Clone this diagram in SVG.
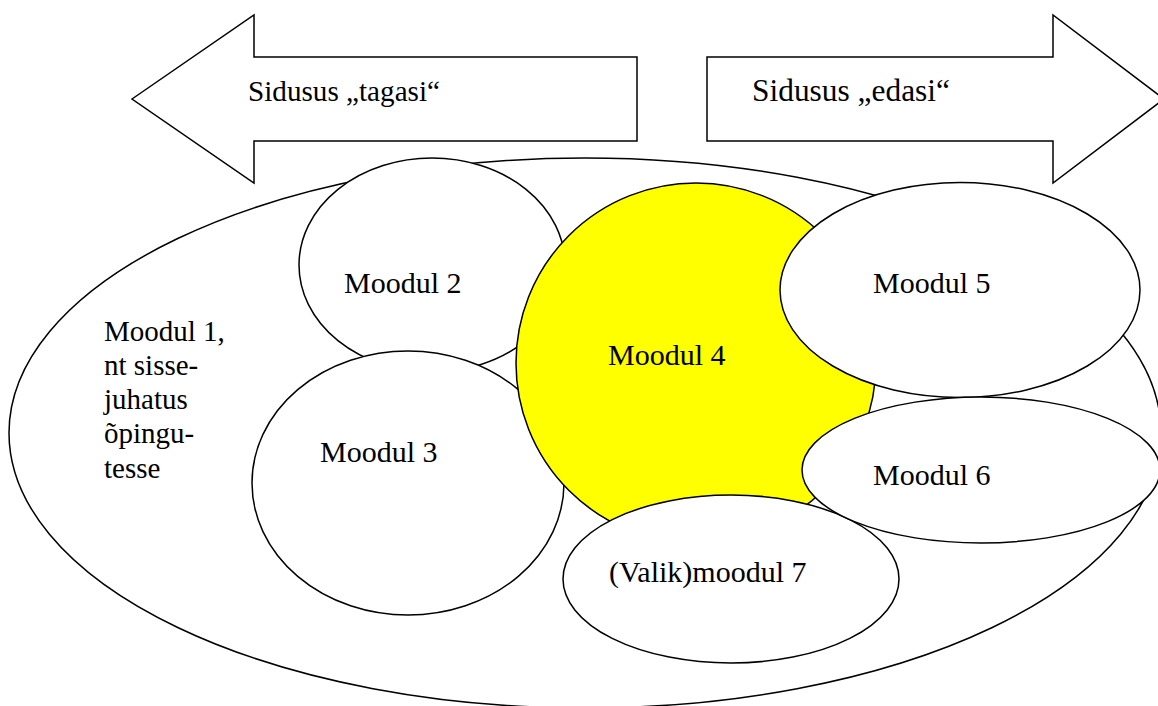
<svg xmlns="http://www.w3.org/2000/svg" width="1158" height="706" viewBox="0 0 1158 706">
<style>
.sh{fill:#fff;stroke:#000;stroke-width:1.5}
.hl{fill:#ffff00;stroke:#000;stroke-width:1.5}
text{font-family:"Liberation Serif","DejaVu Serif",serif;fill:#000}
.m{font-size:30px}
.m1{font-size:29px}
</style>
<rect width="1158" height="706" fill="#fff"/>
<g id="moodul1">
<ellipse class="sh" cx="585" cy="433" rx="576" ry="275"/>
<text class="m1" x="104" y="341">Moodul 1,</text>
<text class="m1" x="104" y="375">nt sisse-</text>
<text class="m1" x="104" y="409">juhatus</text>
<text class="m1" x="104" y="443">õpingu-</text>
<text class="m1" x="104" y="478">tesse</text>
</g>
<g id="arrow-back">
<polygon class="sh" points="132,99 254,15 254,57 637,57 637,141 254,141 254,183"/>
<text x="248" y="101" font-size="29" textLength="192" lengthAdjust="spacingAndGlyphs">Sidusus „tagasi“</text>
</g>
<g id="arrow-forward">
<polygon class="sh" points="707,57 1053,57 1053,15 1164,99 1053,183 1053,141 707,141"/>
<text x="752" y="101" font-size="31" textLength="198" lengthAdjust="spacingAndGlyphs">Sidusus „edasi“</text>
</g>
<g id="moodul2">
<ellipse class="sh" cx="432" cy="265" rx="133" ry="107"/>
<text class="m" x="344" y="293">Moodul 2</text>
</g>
<g id="moodul3">
<ellipse class="sh" cx="408" cy="483" rx="156" ry="132"/>
<text class="m" x="320" y="462">Moodul 3</text>
</g>
<g id="moodul4">
<circle class="hl" cx="696" cy="363" r="180"/>
<text class="m" x="608" y="365">Moodul 4</text>
</g>
<g id="moodul5">
<ellipse class="sh" cx="960" cy="290" rx="180" ry="107.5"/>
<text class="m" x="873" y="293">Moodul 5</text>
</g>
<g id="moodul7">
<ellipse class="sh" cx="731" cy="579" rx="168" ry="84"/>
<text class="m" x="609" y="582">(Valik)moodul 7</text>
</g>
<g id="moodul6">
<ellipse class="sh" cx="981" cy="470" rx="179" ry="73"/>
<text class="m" x="873" y="485">Moodul 6</text>
</g>
<g id="connectors"/>
</svg>
